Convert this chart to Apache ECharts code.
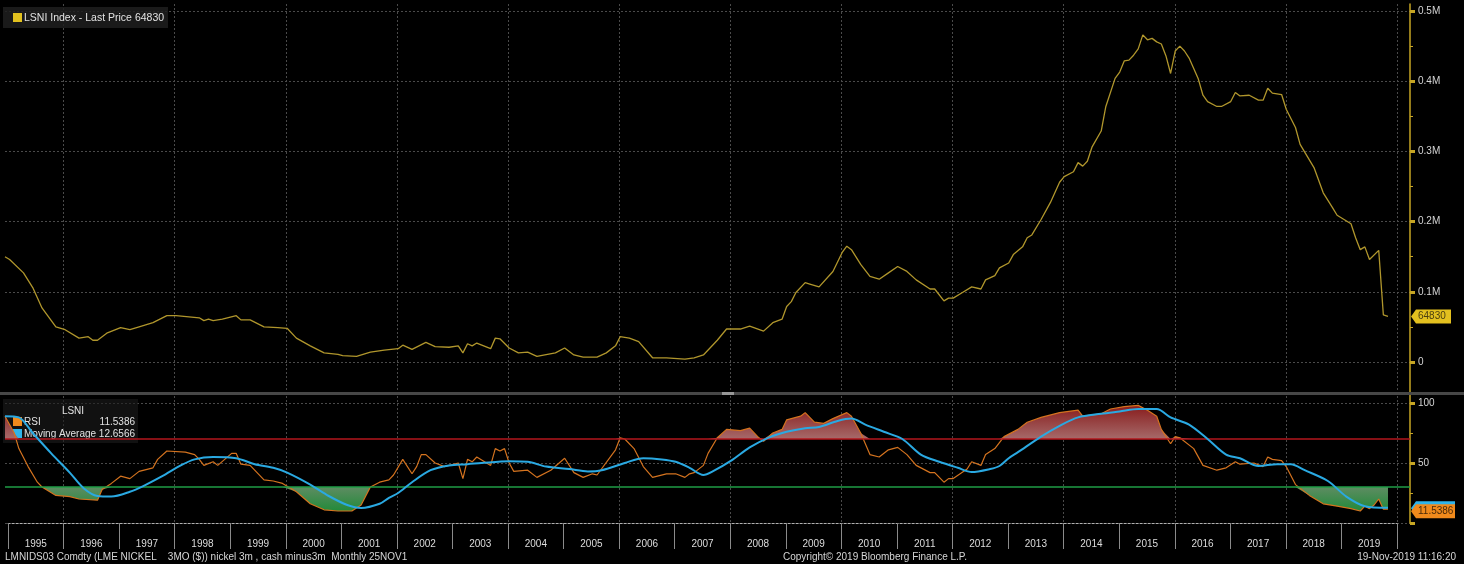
<!DOCTYPE html>
<html>
<head>
<meta charset="utf-8">
<title>LSNI Index - RSI</title>
<script src="https://cdn.jsdelivr.net/npm/echarts@6.0.0/dist/echarts.min.js"></script>
<style>
  html, body { margin: 0; padding: 0; background: #000; }
  #main { width: 1464px; height: 564px; }
</style>
</head>
<body>
<div id="main"></div>
<script>
  // LSNI Index - last price (monthly)
  let priceMonths = ['1994-12','1995-01','1995-04','1995-06','1995-08','1995-11','1996-01','1996-04','1996-06','1996-07','1996-08','1996-10',
    '1997-01','1997-03','1997-05','1997-08','1997-11','1998-01','1998-06','1998-07','1998-08','1998-09','1998-11','1999-02','1999-03','1999-05',
    '1999-08','1999-11','2000-01','2000-03','2000-06','2000-09','2000-12','2001-01','2001-04','2001-07','2001-10','2002-01','2002-02','2002-04',
    '2002-07','2002-09','2002-12','2003-02','2003-03','2003-04','2003-05','2003-06','2003-09','2003-10','2003-11','2004-01','2004-03','2004-05',
    '2004-07','2004-11','2005-01','2005-03','2005-05','2005-08','2005-10','2005-12','2006-01','2006-03','2006-05','2006-08','2006-11','2007-03',
    '2007-05','2007-07','2007-10','2007-12','2008-03','2008-05','2008-08','2008-10','2008-12','2009-01','2009-02','2009-03','2009-05','2009-06',
    '2009-08','2009-11','2010-01','2010-02','2010-03','2010-05','2010-07','2010-09','2010-11','2011-01','2011-03','2011-05','2011-08','2011-09',
    '2011-11','2011-12','2012-01','2012-03','2012-05','2012-07','2012-08','2012-10','2012-11','2013-01','2013-02','2013-04','2013-05','2013-06',
    '2013-08','2013-10','2013-12','2014-01','2014-03','2014-04','2014-05','2014-06','2014-07','2014-09','2014-10','2014-12','2015-01','2015-02',
    '2015-03','2015-04','2015-05','2015-06','2015-07','2015-08','2015-09','2015-10','2015-11','2015-12','2016-01','2016-02','2016-03','2016-04',
    '2016-06','2016-07','2016-08','2016-10','2016-11','2017-01','2017-02','2017-03','2017-05','2017-07','2017-08','2017-09','2017-10','2017-12',
    '2018-01','2018-03','2018-04','2018-07','2018-09','2018-11','2018-12','2019-03','2019-04','2019-05','2019-06','2019-07','2019-09','2019-10',
    '2019-11'];
  let priceValues = [150000,146000,127000,106000,77000,50000,46000,34000,36000,31000,31000,41000,
    49000,46000,50000,56000,66000,66000,63000,59000,61000,59000,61000,66000,60000,60000,
    50000,49000,48000,34000,23000,13000,11000,9000,8000,14000,17000,19000,24000,18000,
    28000,22000,21000,23000,13000,26000,23000,27000,19000,34000,33000,20000,13000,14000,
    8000,13000,20000,10000,7000,7000,13000,23000,36000,34000,29000,6000,6000,4000,
    6000,10000,31000,47000,47000,51000,44000,56000,61000,79000,86000,99000,113000,111000,
    107000,129000,156000,165000,160000,139000,122000,118000,127000,136000,129000,117000,104000,104000,
    87000,91000,91000,99000,107000,104000,117000,123000,134000,141000,153000,164000,177000,181000,
    203000,227000,256000,264000,271000,284000,279000,286000,306000,329000,364000,404000,413000,429000,
    430000,437000,446000,466000,459000,461000,456000,453000,436000,411000,443000,450000,443000,433000,
    403000,380000,371000,364000,364000,371000,384000,379000,380000,373000,373000,390000,383000,381000,
    360000,334000,310000,277000,241000,220000,209000,197000,177000,160000,164000,146000,159000,67000,
    64830];

  // RSI
  let rsiMonths = ['1994-12','1995-02','1995-03','1995-05','1995-07','1995-08','1995-11','1996-02','1996-04','1996-08','1996-09','1996-11',
    '1997-01','1997-03','1997-05','1997-08','1997-09','1997-11','1998-03','1998-05','1998-06','1998-07','1998-09','1998-10','1999-01','1999-02',
    '1999-03','1999-05','1999-08','1999-10','1999-12','2000-03','2000-06','2000-09','2000-12','2001-03','2001-05','2001-07','2001-09','2001-11',
    '2001-12','2002-02','2002-04','2002-05','2002-06','2002-07','2002-09','2002-11','2003-02','2003-03','2003-04','2003-05','2003-06','2003-09',
    '2003-10','2003-11','2003-12','2004-01','2004-02','2004-05','2004-07','2004-10','2005-01','2005-03','2005-05','2005-07','2005-08','2005-12',
    '2006-01','2006-02','2006-04','2006-06','2006-08','2006-11','2007-01','2007-03','2007-04','2007-05','2007-07','2007-08','2007-10','2007-12',
    '2008-03','2008-05','2008-07','2008-08','2008-10','2008-12','2009-01','2009-04','2009-05','2009-07','2009-09','2009-11','2010-02','2010-03',
    '2010-05','2010-07','2010-09','2010-11','2011-01','2011-03','2011-05','2011-08','2011-09','2011-11','2011-12','2012-01','2012-04','2012-05',
    '2012-07','2012-08','2012-10','2012-11','2012-12','2013-03','2013-05','2013-08','2013-12','2014-04','2014-05','2014-09','2014-11','2015-02',
    '2015-05','2015-07','2015-09','2015-10','2015-12','2016-01','2016-02','2016-05','2016-07','2016-10','2016-12','2017-02','2017-03','2017-06',
    '2017-08','2017-09','2017-10','2017-12','2018-01','2018-03','2018-06','2018-09','2018-12','2019-03','2019-05','2019-06','2019-07','2019-08',
    '2019-09','2019-10','2019-11'];
  let rsiValues = [89,75,62,47,34,30,23,22,20,19,28,33,
    39,37,43,46,53,60,59,57,53,48,51,48,58,58,
    49,48,36,35,33,26,16,11,10,10,15,30,34,36,
    40,53,41,47,57,57,50,47,50,37,53,51,55,48,
    62,60,62,50,43,44,38,44,54,42,38,41,40,61,
    71,70,62,47,38,41,41,38,41,42,48,58,71,78,
    77,79,71,68,75,78,86,89,92,84,83,87,92,89,
    75,57,55,61,63,57,48,42,42,34,37,37,45,51,
    48,57,62,67,72,78,84,88,92,94,89,91,95,97,
    98,94,89,78,66,72,71,62,48,44,46,51,49,50,
    47,55,53,52,47,32,23,16,14,12,10,14,12,15,
    20,11.5,11.5386];

  // Moving average of RSI
  let maMonths = ['1994-12','1995-03','1995-06','1995-10','1996-02','1996-05','1996-08','1996-11','1997-03','1997-06','1997-10','1998-02',
    '1998-05','1998-09','1999-02','1999-06','1999-10','2000-01','2000-06','2000-10','2001-02','2001-05','2001-09','2001-11','2002-01','2002-04',
    '2002-08','2002-12','2003-04','2003-07','2004-01','2004-05','2004-09','2005-02','2005-06','2005-09','2006-02','2006-06','2006-10','2007-01',
    '2007-04','2007-07','2007-09','2008-01','2008-05','2008-09','2009-01','2009-05','2009-08','2009-12','2010-03','2010-06','2010-10','2011-02',
    '2011-06','2011-10','2012-02','2012-05','2012-09','2012-11','2013-01','2013-03','2013-08','2013-12','2014-04','2014-09','2015-01','2015-05',
    '2015-09','2015-12','2016-04','2016-08','2016-12','2017-03','2017-07','2017-11','2018-02','2018-05','2018-10','2019-02','2019-06','2019-11'];
  let maValues = [89,88,75,58,42,29,22.5,22,26,31,39,48,
    53,55,54,49,46,42,32,22.5,15,12.5,16,21,25,34,
    44,48,49,50,51.5,51,47,45,43,44,50,54,53,51,
    46,40,43,52,63,71,76,79,80,85,87,82,76,70,
    57,51,46,42.5,45,47.5,54,59,72,81,88,91,93,95,
    95,88,82,70,57,54,47.5,49,49,44,35,22,14,12.6566];

  let years = ['1995','1996','1997','1998','1999','2000','2001','2002','2003','2004','2005','2006','2007',
    '2008','2009','2010','2011','2012','2013','2014','2015','2016','2017','2018','2019'];

  const X_MIN = 1994.917, X_MAX = 2020.23;
  const RSI_TOP = 403, RSI_H = 120;

  function toYear(m) {
    let p = m.split('-');
    return +p[0] + (+p[1] - 1) / 12;
  }
  function pairs(months, values, fn) {
    return months.map((m, i) => [toYear(m), fn ? fn(values[i]) : values[i]]);
  }
  function rsiY(v) { return RSI_TOP + RSI_H * (1 - v / 100); }

  const font = '"Liberation Sans", Arial, sans-serif';
  const gold = '#c7a624';

  let chart = echarts.init(document.getElementById('main'));

  let hiddenX = (grid) => ({
    type: 'value', gridIndex: grid, min: X_MIN, max: X_MAX, show: false
  });

  let option = {
    backgroundColor: '#000',
    animation: false,
    grid: [
      { left: 5, right: 54, top: 11, height: 351 },
      { left: 5, right: 54, top: RSI_TOP, height: RSI_H },
      { left: 8, right: 67, top: 4, height: 519 }
    ],
    xAxis: [
      hiddenX(0),
      hiddenX(1),
      {
        type: 'category', gridIndex: 2, data: years, boundaryGap: true, position: 'bottom',
        axisLine: { show: true, lineStyle: { color: '#b0b0b0', type: [2, 2], width: 1 } },
        axisTick: { show: true, interval: 0, length: 26, lineStyle: { color: '#8a8a8a' } },
        axisLabel: { interval: 0, margin: 16, color: '#dcdcdc', fontSize: 10, fontFamily: font },
        splitLine: {
          show: true,
          interval: function (index) { return index % 2 === 1; },
          lineStyle: { color: '#4a4a4a', type: [2, 2], width: 1 }
        }
      }
    ],
    yAxis: [
      {
        type: 'value', gridIndex: 0, position: 'right', min: 0, max: 500000, interval: 100000,
        axisLine: { show: false },
        axisTick: { show: true, length: 5, lineStyle: { color: gold, width: 3 } },
        minorTick: { show: true, splitNumber: 2, length: 3, lineStyle: { color: gold, width: 1 } },
        axisLabel: {
          margin: 8, color: '#d4d4d4', fontSize: 10, fontFamily: font,
          formatter: v => v === 0 ? '0' : (v / 1e6).toFixed(1) + 'M'
        },
        splitLine: { show: true, lineStyle: { color: '#4a4a4a', type: [2, 2] } }
      },
      {
        type: 'value', gridIndex: 1, position: 'right', min: 0, max: 100, interval: 50,
        axisLine: { show: false },
        axisTick: { show: true, length: 5, lineStyle: { color: gold, width: 3 } },
        minorTick: { show: true, splitNumber: 2, length: 3, lineStyle: { color: gold, width: 1 } },
        axisLabel: {
          margin: 8, color: '#d4d4d4', fontSize: 10, fontFamily: font,
          formatter: v => v === 0 ? '' : String(v)
        },
        splitLine: { show: true, lineStyle: { color: '#4a4a4a', type: [2, 2] } }
      },
      {
        type: 'value', gridIndex: 2, position: 'right', offset: 13, min: 0, max: 1,
        axisLine: { show: true, lineStyle: { color: gold, width: 1.5 } },
        axisTick: { show: false }, axisLabel: { show: false }, splitLine: { show: false }
      }
    ],
    series: [
      {
        name: 'LSNI Index', type: 'line', xAxisIndex: 0, yAxisIndex: 0,
        data: pairs(priceMonths, priceValues),
        symbol: 'none', lineStyle: { color: '#b0962c', width: 1.3 }, z: 5
      },
      {
        name: 'overbought', type: 'line', xAxisIndex: 1, yAxisIndex: 1,
        data: pairs(rsiMonths, rsiValues, v => Math.max(v, 70)),
        symbol: 'none', lineStyle: { width: 0 }, silent: true, z: 2,
        areaStyle: {
          origin: 70, opacity: 1,
          color: new echarts.graphic.LinearGradient(0, rsiY(100), 0, rsiY(70), [
            { offset: 0, color: '#861616' },
            { offset: 1, color: '#a66a6a' }
          ], true)
        }
      },
      {
        name: 'oversold', type: 'line', xAxisIndex: 1, yAxisIndex: 1,
        data: pairs(rsiMonths, rsiValues, v => Math.min(v, 30)),
        symbol: 'none', lineStyle: { width: 0 }, silent: true, z: 2,
        areaStyle: {
          origin: 30, opacity: 1,
          color: new echarts.graphic.LinearGradient(0, rsiY(30), 0, rsiY(8), [
            { offset: 0, color: '#5e8c62' },
            { offset: 1, color: '#1c8a36' }
          ], true)
        }
      },
      {
        name: 'RSI', type: 'line', xAxisIndex: 1, yAxisIndex: 1,
        data: pairs(rsiMonths, rsiValues),
        symbol: 'none', lineStyle: { color: '#d4731f', width: 1.2 }, z: 4,
        markLine: {
          silent: true, symbol: 'none', label: { show: false },
          data: [
            { yAxis: 70, lineStyle: { color: '#b3161c', width: 1.5, type: 'solid' } },
            { yAxis: 30, lineStyle: { color: '#1f9c46', width: 1.5, type: 'solid' } }
          ]
        }
      },
      {
        name: 'Moving Average', type: 'line', xAxisIndex: 1, yAxisIndex: 1,
        data: pairs(maMonths, maValues), smooth: 0.3,
        symbol: 'none', lineStyle: { color: '#2aa9e2', width: 2 }, z: 5
      }
    ]
  };
  chart.setOption(option);

  // value tags on the right axis + legends, footer
  let lastPrice = priceValues[priceValues.length - 1];
  let lastRsi = rsiValues[rsiValues.length - 1];
  let lastMa = maValues[maValues.length - 1];
  let py = chart.convertToPixel({ yAxisIndex: 0 }, lastPrice);
  let ry = chart.convertToPixel({ yAxisIndex: 1 }, lastRsi);

  function tag(y, w, fill, txt, txtColor) {
    return {
      type: 'group', x: 1411, y: y, z: 50,
      children: [
        { type: 'polygon', shape: { points: [[0, 0], [5, -7], [w, -7], [w, 7], [5, 7]] }, style: { fill: fill } },
        { type: 'text', x: 7, y: 0, style: { text: txt, fill: txtColor, font: '10px ' + font, textVerticalAlign: 'middle' } }
      ]
    };
  }

  chart.setOption({
    graphic: [
      // panel separator
      { type: 'rect', shape: { x: 0, y: 392, width: 1464, height: 3 }, style: { fill: '#474747' }, z: 40 },
      { type: 'rect', shape: { x: 722, y: 392, width: 12, height: 3 }, style: { fill: '#979797' }, z: 41 },
      // top legend
      {
        type: 'group', x: 3, y: 7, z: 50,
        children: [
          { type: 'rect', shape: { x: 0, y: 0, width: 165, height: 21 }, style: { fill: 'rgba(30,30,30,0.85)' } },
          { type: 'rect', shape: { x: 10, y: 6, width: 9, height: 9 }, style: { fill: '#e2c11e' } },
          { type: 'text', x: 21, y: 11, style: { text: 'LSNI Index - Last Price ' + lastPrice, fill: '#e2e2e2', font: '10.5px ' + font, textVerticalAlign: 'middle' } }
        ]
      },
      // bottom legend
      {
        type: 'group', x: 3, y: 399, z: 50,
        children: [
          { type: 'rect', shape: { x: 0, y: 0, width: 135, height: 44 }, style: { fill: 'rgba(28,28,28,0.6)' } },
          { type: 'text', x: 70, y: 12, style: { text: 'LSNI', fill: '#e2e2e2', font: '10px ' + font, textAlign: 'center', textVerticalAlign: 'middle' } },
          { type: 'rect', shape: { x: 10, y: 18, width: 9, height: 9 }, style: { fill: '#f08a1c' } },
          { type: 'text', x: 21, y: 23, style: { text: 'RSI', fill: '#e2e2e2', font: '10px ' + font, textVerticalAlign: 'middle' } },
          { type: 'text', x: 132, y: 23, style: { text: String(lastRsi), fill: '#e2e2e2', font: '10px ' + font, textAlign: 'right', textVerticalAlign: 'middle' } },
          { type: 'rect', shape: { x: 10, y: 30, width: 9, height: 9 }, style: { fill: '#2fb4ea' } },
          { type: 'text', x: 21, y: 35, style: { text: 'Moving Average', fill: '#e2e2e2', font: '10px ' + font, textVerticalAlign: 'middle' } },
          { type: 'text', x: 132, y: 35, style: { text: String(lastMa), fill: '#e2e2e2', font: '10px ' + font, textAlign: 'right', textVerticalAlign: 'middle' } }
        ]
      },
      tag(py, 40, '#e3c01f', String(lastPrice), '#4a3e10'),
      // moving-average tag sits mostly hidden behind the RSI tag
      tag(ry - 1, 44, '#2fb4ea', '', '#10303e'),
      tag(ry + 2, 44, '#f08a1c', String(lastRsi), '#4a2a08'),
      // footer
      { type: 'text', x: 5, y: 557, z: 50, style: { text: 'LMNIDS03 Comdty (LME NICKEL    3MO ($)) nickel 3m , cash minus3m  Monthly 25NOV1', fill: '#d6d6d6', font: '10px ' + font, textVerticalAlign: 'middle' } },
      { type: 'text', x: 875, y: 557, z: 50, style: { text: 'Copyright\u00a9 2019 Bloomberg Finance L.P.', fill: '#d6d6d6', font: '10px ' + font, textAlign: 'center', textVerticalAlign: 'middle' } },
      { type: 'text', x: 1456, y: 557, z: 50, style: { text: '19-Nov-2019 11:16:20', fill: '#d6d6d6', font: '10px ' + font, textAlign: 'right', textVerticalAlign: 'middle' } }
    ]
  });
</script>
</body>
</html>
